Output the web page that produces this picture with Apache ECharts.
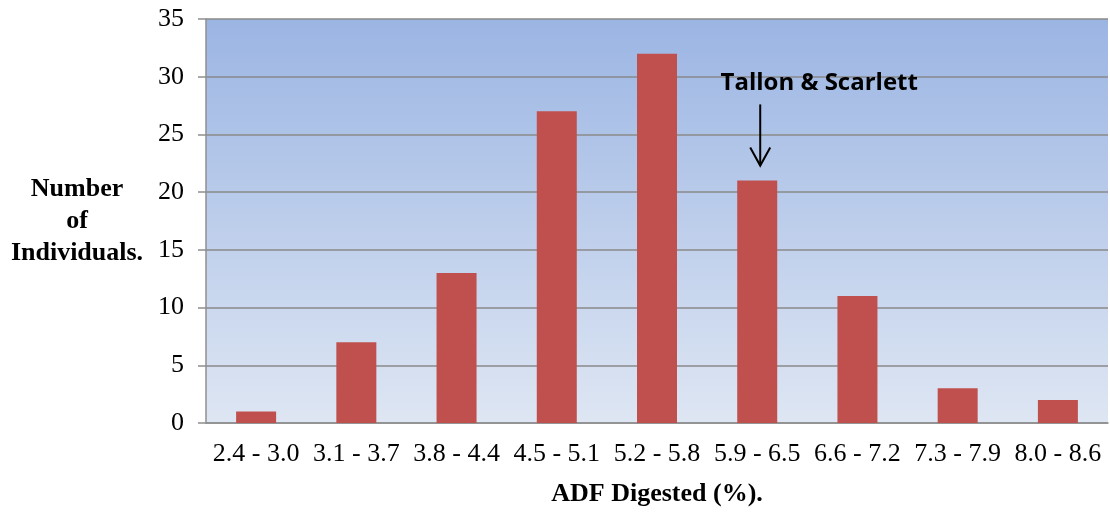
<!DOCTYPE html>
<html><head><meta charset="utf-8">
<script src="https://cdn.jsdelivr.net/npm/echarts@6/dist/echarts.min.js"></script>
<style>html,body{margin:0;padding:0;background:#fff}#c{width:1110px;height:512px}</style>
</head><body><div id="c"></div>
<script>
const categories = ['2.4 - 3.0','3.1 - 3.7','3.8 - 4.4','4.5 - 5.1','5.2 - 5.8','5.9 - 6.5','6.6 - 7.2','7.3 - 7.9','8.0 - 8.6'];
const counts = [1, 7, 13, 27, 32, 21, 11, 3, 2];
const annotationCategory = '5.9 - 6.5';
const annotationText = 'Tallon & Scarlett';
const arrowFrom = 27.6, arrowTo = 22.3;

const chart = echarts.init(document.getElementById('c'));
const serif = '"Liberation Serif", "Times New Roman", serif';
chart.setOption({
  animation: false,
  grid: {
    left: 206, right: 2, top: 19, bottom: 86, show: true, borderWidth: 0,
    backgroundColor: new echarts.graphic.LinearGradient(0, 0, 0, 1, [
      {offset: 0, color: '#9bb5e3'}, {offset: 1, color: '#dee6f3'}])
  },
  xAxis: {
    type: 'category', data: categories,
    name: 'ADF Digested (%).', nameLocation: 'middle', nameGap: 58,
    nameTextStyle: {fontFamily: serif, fontWeight: 'bold', fontSize: 26, color: '#000'},
    axisLine: {lineStyle: {color: '#8f8f8f', width: 1.5}},
    axisTick: {length: 7, lineStyle: {color: '#8f8f8f', width: 1.5}},
    axisLabel: {fontFamily: serif, fontSize: 26, color: '#000', margin: 18, interval: 0}
  },
  yAxis: {
    type: 'value', min: 0, max: 35, interval: 5,
    name: 'Number\nof\nIndividuals.', nameLocation: 'middle', nameRotate: 0, nameGap: 129,
    nameTextStyle: {fontFamily: serif, fontWeight: 'bold', fontSize: 26, color: '#000', align: 'center', verticalAlign: 'middle', lineHeight: 32, padding: [8, 0, 0, 0]},
    axisLine: {show: true, lineStyle: {color: '#8f8f8f', width: 1.5}},
    axisTick: {show: true, length: 8, lineStyle: {color: '#8f8f8f', width: 1.5}},
    axisLabel: {fontFamily: serif, fontSize: 26, color: '#000', margin: 22},
    splitLine: {lineStyle: {color: '#8a8a8a', width: 1.5}}
  },
  series: [{
    type: 'bar', data: counts, barWidth: 40,
    itemStyle: {color: '#c0504d'}
  }]
});

const arrTop = chart.convertToPixel({xAxisIndex: 0, yAxisIndex: 0}, [annotationCategory, arrowFrom]);
const arrTip = chart.convertToPixel({xAxisIndex: 0, yAxisIndex: 0}, [annotationCategory, arrowTo]);
const ax = arrTop[0] + 3;
chart.setOption({
  graphic: [
    {type: 'text', x: ax + 59, y: arrTop[1] - 21,
     style: {text: annotationText, font: 'bold 24px "Open Sans", Lato, sans-serif', fill: '#000', align: 'center', verticalAlign: 'middle'}},
    {type: 'line', shape: {x1: ax, y1: arrTop[1], x2: ax, y2: arrTip[1]},
     style: {stroke: '#000', lineWidth: 2}},
    {type: 'polyline', shape: {points: [[ax-10, arrTip[1]-18], [ax, arrTip[1]], [ax+10, arrTip[1]-18]]},
     style: {stroke: '#000', lineWidth: 2, fill: null}}
  ]
});
</script></body></html>
